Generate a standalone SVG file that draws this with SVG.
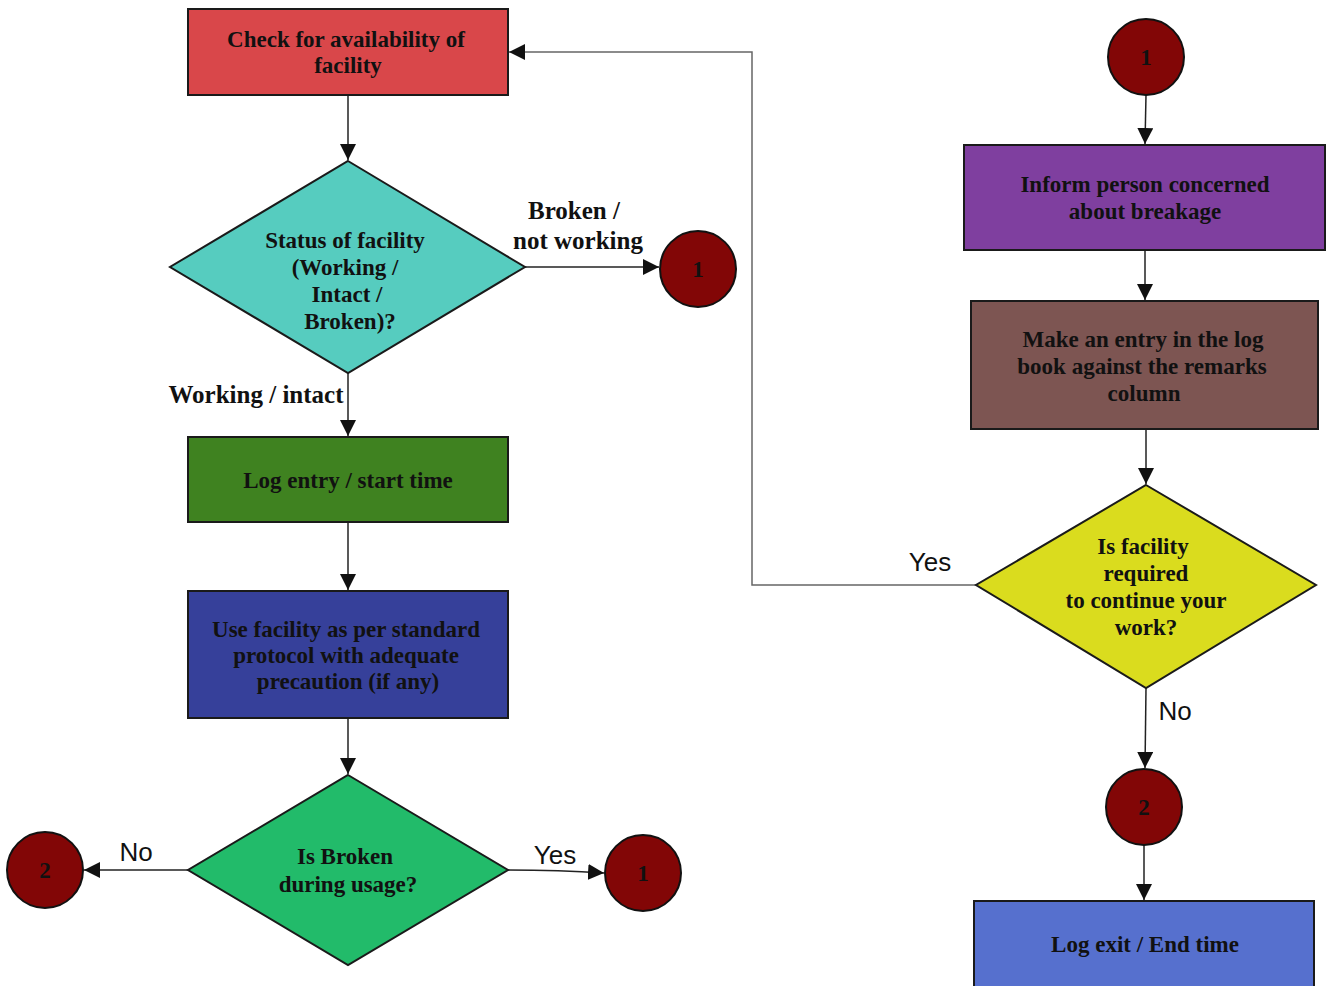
<svg xmlns="http://www.w3.org/2000/svg" width="1328" height="986" viewBox="0 0 1328 986">
<style>
.n{stroke:#1a1a1a;stroke-width:2}
.t{font-family:"Liberation Serif","Times New Roman",serif;font-weight:bold;font-size:23px;fill:#111;text-anchor:middle}
.lb{font-family:"Liberation Serif","Times New Roman",serif;font-weight:bold;font-size:25px;fill:#111;text-anchor:middle}
.ls{font-family:"Liberation Sans",Arial,sans-serif;font-size:26px;fill:#111;text-anchor:middle}
.c{fill:none;stroke:#222;stroke-width:1.5}
.cg{fill:none;stroke:#666;stroke-width:1.5}
.circ{fill:#820606;stroke:#111;stroke-width:2}
</style>
<defs>
<marker id="a" viewBox="0 0 10 10" refX="10" refY="5" markerWidth="16" markerHeight="16" markerUnits="userSpaceOnUse" orient="auto"><path d="M0,0L10,5L0,10Z" fill="#111"/></marker>
</defs>
<rect width="1328" height="986" fill="#fff"/>
<g id="connectors">
<path class="c" d="M348,95V160" marker-end="url(#a)"/>
<path class="c" d="M525,267H659" marker-end="url(#a)"/>
<path class="c" d="M348,373V436" marker-end="url(#a)"/>
<path class="c" d="M348,522V590" marker-end="url(#a)"/>
<path class="c" d="M348,718V774" marker-end="url(#a)"/>
<path class="c" d="M188,870H84" marker-end="url(#a)"/>
<path class="c" d="M508,870Q560,870 604,873" marker-end="url(#a)"/>
<path class="c" d="M1146,95L1145,144" marker-end="url(#a)"/>
<path class="c" d="M1145,250V300" marker-end="url(#a)"/>
<path class="c" d="M1146,429V484" marker-end="url(#a)"/>
<path class="cg" d="M976,585H752V52H509" marker-end="url(#a)"/>
<path class="c" d="M1146,688L1145,768" marker-end="url(#a)"/>
<path class="c" d="M1144,845V900" marker-end="url(#a)"/>
<text class="lb" x="574" y="219">Broken /</text>
<text class="lb" x="578" y="249">not working</text>
<text class="lb" x="256" y="403">Working / intact</text>
<text class="ls" x="136" y="861">No</text>
<text class="ls" x="555" y="864">Yes</text>
<text class="ls" x="930" y="571">Yes</text>
<text class="ls" x="1175" y="720">No</text>
</g>
<g id="check">
<rect class="n" x="188" y="9" width="320" height="86" fill="#D9474A"/>
<text class="t" x="346" y="47">Check for availability of</text>
<text class="t" x="348" y="73">facility</text>
</g>
<g id="status">
<path class="n" d="M348,161L525,267L348,373L170,267Z" fill="#56CCBF"/>
<text class="t" x="345" y="248">Status of facility</text>
<text class="t" x="345" y="275">(Working /</text>
<text class="t" x="347" y="302">Intact /</text>
<text class="t" x="350" y="329">Broken)?</text>
</g>
<g id="c1a">
<circle class="circ" cx="698" cy="269" r="38"/>
<text class="t" x="698" y="277">1</text>
</g>
<g id="logentry">
<rect class="n" x="188" y="437" width="320" height="85" fill="#3F8220"/>
<text class="t" x="348" y="488">Log entry / start time</text>
</g>
<g id="use">
<rect class="n" x="188" y="591" width="320" height="127" fill="#36409A"/>
<text class="t" x="346" y="637">Use facility as per standard</text>
<text class="t" x="346" y="663">protocol with adequate</text>
<text class="t" x="348" y="689">precaution (if any)</text>
</g>
<g id="broken">
<path class="n" d="M348,775L508,870L348,965L188,870Z" fill="#22BB6A"/>
<text class="t" x="345" y="864">Is Broken</text>
<text class="t" x="348" y="892">during usage?</text>
</g>
<g id="c2a">
<circle class="circ" cx="45" cy="870" r="38"/>
<text class="t" x="45" y="878">2</text>
</g>
<g id="c1b">
<circle class="circ" cx="643" cy="873" r="38"/>
<text class="t" x="643" y="881">1</text>
</g>
<g id="c1top">
<circle class="circ" cx="1146" cy="57" r="38"/>
<text class="t" x="1146" y="65">1</text>
</g>
<g id="inform">
<rect class="n" x="964" y="145" width="361" height="105" fill="#7F3F9F"/>
<text class="t" x="1145" y="192">Inform person concerned</text>
<text class="t" x="1145" y="219">about breakage</text>
</g>
<g id="entry">
<rect class="n" x="971" y="301" width="347" height="128" fill="#7D5552"/>
<text class="t" x="1143" y="347">Make an entry in the log</text>
<text class="t" x="1142" y="374">book against the remarks</text>
<text class="t" x="1144" y="401">column</text>
</g>
<g id="required">
<path class="n" d="M1146,485L1316,585L1146,688L976,585Z" fill="#DADC1E"/>
<text class="t" x="1143" y="554">Is facility</text>
<text class="t" x="1146" y="581">required</text>
<text class="t" x="1146" y="608">to continue your</text>
<text class="t" x="1146" y="635">work?</text>
</g>
<g id="c2b">
<circle class="circ" cx="1144" cy="807" r="38"/>
<text class="t" x="1144" y="815">2</text>
</g>
<g id="logexit">
<rect class="n" x="974" y="901" width="340" height="90" fill="#5670CE"/>
<text class="t" x="1145" y="952">Log exit / End time</text>
</g>
</svg>
